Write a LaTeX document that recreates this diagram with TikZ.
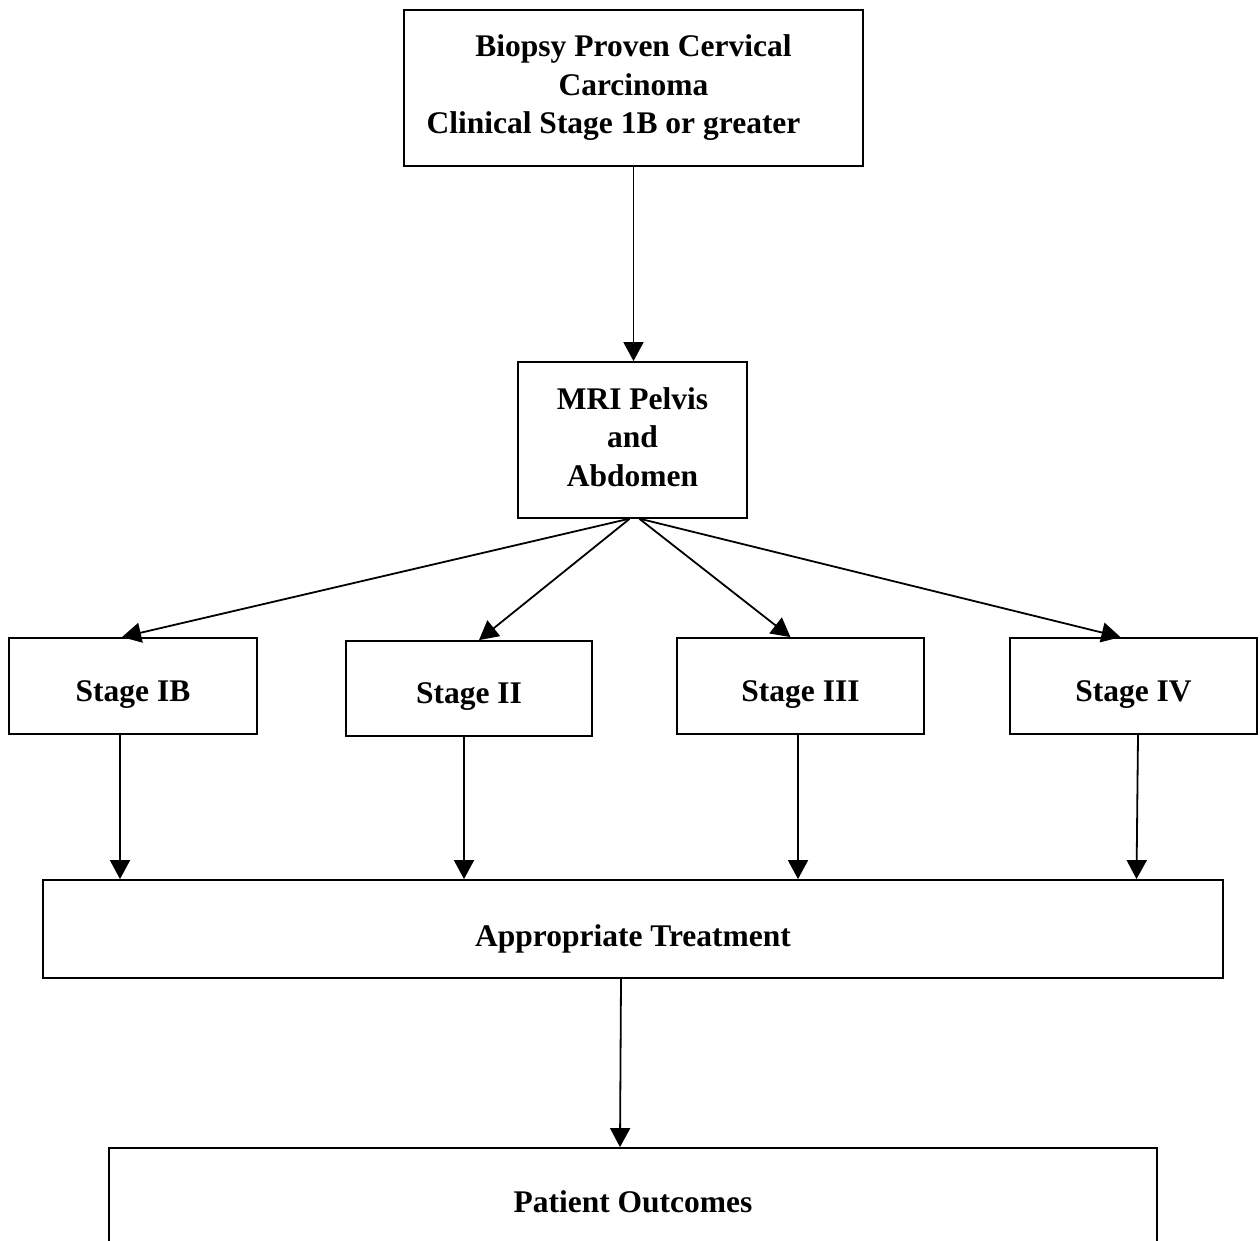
\documentclass[tikz,border=0pt]{standalone}
\usepackage{fontspec}
\setmainfont{Liberation Serif}
\usetikzlibrary{arrows.meta, positioning, calc}
\tikzset{
  flowbox/.style={draw, line width=1.8pt, inner sep=0pt, align=center, font=\bfseries\fontsize{31.5}{38.5}\selectfont},
  stagebox/.style={flowbox, minimum width=247pt, minimum height=96pt, text height=30pt, text depth=0pt},
  flowarrow/.style={-{Triangle[length=19pt, width=20pt]}, line width=1.8pt},
}
\begin{document}
\begin{tikzpicture}[x=1pt, y=-1pt]
        \useasboundingbox (0,0) rectangle (1260,1241);
        \clip (0,0) rectangle (1260,1241);
        \node[flowbox, minimum width=459pt, minimum height=156pt] (biopsy) at (633.5,88) {Biopsy Proven Cervical\\Carcinoma\\Clinical Stage 1B or greater\hspace*{40pt}};
        \node[flowbox, minimum width=229pt, minimum height=156pt, text depth=6pt] (mri) at (632.5,440) {MRI Pelvis\\and\\Abdomen};
        \node[stagebox, minimum width=248pt] (stageIB) at (133,686) {Stage IB};
        \node[stagebox, minimum width=246pt, minimum height=95pt] (stageII) at (469,688.5) {Stage II};
        \node[stagebox] (stageIII) at (800.5,686) {Stage III};
        \node[stagebox] (stageIV) at (1133.5,686) {Stage IV};
        \node[flowbox, minimum width=1180pt, minimum height=98pt, text height=34pt, text depth=0pt] (treat) at (633,929) {Appropriate Treatment};
        \node[flowbox, minimum width=1048pt, minimum height=108pt] (outcome) at (633,1202) {Patient Outcomes};
        
        \draw[flowarrow] (biopsy.south) -- (biopsy.south |- mri.north);
        \draw[flowarrow] ([xshift=-4pt]mri.south) -- ([xshift=-11pt]stageIB.north);
        \draw[flowarrow] ([xshift=-3pt]mri.south) -- ([xshift=10pt]stageII.north);
        \draw[flowarrow] ([xshift=7pt]mri.south) -- ([xshift=-10pt]stageIII.north);
        \draw[flowarrow] ([xshift=8pt]mri.south) -- ([xshift=-13pt]stageIV.north);
        \draw[flowarrow] ([xshift=-13pt]stageIB.south) -- ([xshift=-13pt]stageIB.south |- treat.north);
        \draw[flowarrow] ([xshift=-5pt]stageII.south) -- ([xshift=-5pt]stageII.south |- treat.north);
        \draw[flowarrow] ([xshift=-2.5pt]stageIII.south) -- ([xshift=-2.5pt]stageIII.south |- treat.north);
        \draw[flowarrow] ([xshift=4.5pt]stageIV.south) -- ([xshift=3pt]treat.north -| stageIV.south);
        \draw[flowarrow] ([xshift=-12pt]treat.south) -- ([xshift=-13pt]outcome.north);
    \end{tikzpicture}
\end{document}
